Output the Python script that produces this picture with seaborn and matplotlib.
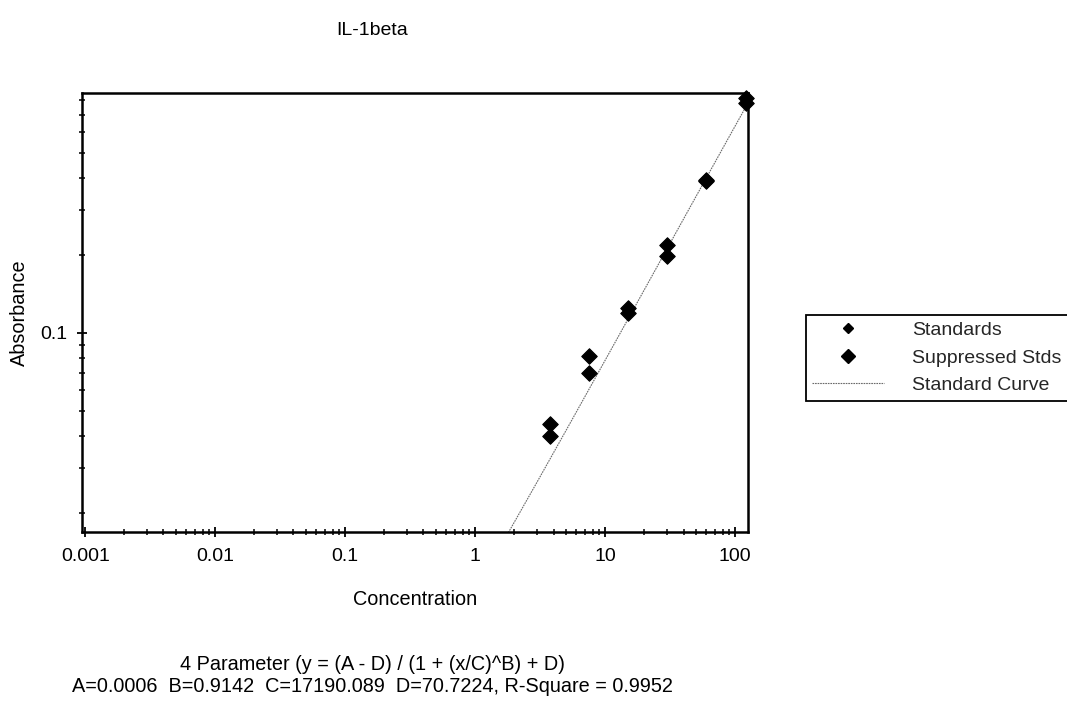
import matplotlib
matplotlib.use("Agg")
import matplotlib.pyplot as plt
import pandas as pd
import seaborn as sns
from matplotlib.ticker import LogLocator, FuncFormatter, NullFormatter
from matplotlib.lines import Line2D

# ---------------- data ----------------
title = "IL-1beta"
x_label = "Concentration"
y_label = "Absorbance"

std_conc = [3.75, 3.75, 7.5, 7.5, 15, 15, 30, 30, 60, 60, 120, 120]
std_abs = [0.0443, 0.0399, 0.0814, 0.0698, 0.125, 0.120, 0.219, 0.199, 0.393, 0.389, 0.815, 0.775]

curve_conc = [1.5, 2, 3, 5, 7.5, 10, 15, 20, 30, 45, 60, 90, 120]
curve_abs = [0.01436, 0.0185, 0.02652, 0.04195, 0.06051, 0.07851, 0.1134,
             0.1472, 0.2128, 0.3077, 0.3995, 0.5773, 0.7486]

legend_labels = ["Standards", "Suppressed Stds", "Standard Curve"]
fit_lines = ["4 Parameter (y = (A - D) / (1 + (x/C)^B) + D)",
             "A=0.0006  B=0.9142  C=17190.089  D=70.7224, R-Square = 0.9952"]

# ---------------- style ----------------
sns.set_theme(style="white")
plt.rcParams["font.family"] = ["Liberation Sans", "DejaVu Sans"]
FS = 14

W, H = 1067, 715
fig = plt.figure(figsize=(W / 100, H / 100), dpi=100)
fig.patch.set_facecolor("white")


def fx(px):
    return px / W


def fy(py):
    return 1 - py / H


ax = fig.add_axes([fx(81.7), fy(532.3), fx(748.3) - fx(81.7), fy(93) - fy(532.3)])
ax.set_facecolor("white")

df_std = pd.DataFrame({"conc": std_conc, "abs": std_abs})
df_curve = pd.DataFrame({"conc": curve_conc, "abs": curve_abs})

sns.lineplot(data=df_curve, x="conc", y="abs", ax=ax, color="#6a6a6a",
             linewidth=0.8, linestyle=(0, (1.5, 0.8)), legend=False, zorder=2)
sns.scatterplot(data=df_std, x="conc", y="abs", ax=ax, marker="D", s=62,
                color="black", edgecolor="black", linewidth=0.8,
                legend=False, zorder=3, clip_on=False)

ax.set_xscale("log")
ax.set_yscale("log")
ax.set_xlim(0.00094, 126)
ax.set_ylim(0.01689, 0.851)

ax.xaxis.set_major_locator(LogLocator(base=10, numticks=20))
ax.xaxis.set_minor_locator(LogLocator(base=10, subs=range(2, 10), numticks=100))
ax.yaxis.set_major_locator(LogLocator(base=10, numticks=20))
ax.yaxis.set_minor_locator(LogLocator(base=10, subs=range(2, 10), numticks=100))
fmt = FuncFormatter(lambda v, p: "%g" % v)
ax.xaxis.set_major_formatter(fmt)
ax.yaxis.set_major_formatter(fmt)
ax.xaxis.set_minor_formatter(NullFormatter())
ax.yaxis.set_minor_formatter(NullFormatter())

for s in ax.spines.values():
    s.set_visible(True)
    s.set_color("black")
    s.set_linewidth(1.8)

ax.tick_params(which="both", direction="inout", color="black", left=True,
               bottom=True, top=False, right=False)
ax.tick_params(which="major", length=7, width=1.3, labelsize=FS, labelcolor="black")
ax.tick_params(axis="x", which="major", pad=8)
ax.tick_params(axis="y", which="major", pad=7)
ax.tick_params(which="minor", length=5, width=1.1)

ax.set_xlabel(x_label, fontsize=14.3, color="black", labelpad=18)
ax.set_ylabel(y_label, fontsize=14.3, color="black", labelpad=8)
ax.set_title(title, fontsize=14, color="black", x=(372 - 81.7) / 666.6, pad=42)

# legend
handles = [
    Line2D([], [], marker="D", color="black", linestyle="none", markersize=5),
    Line2D([], [], marker="D", color="black", linestyle="none", markersize=7),
    Line2D([], [], color="#6a6a6a", linewidth=0.8, linestyle=(0, (1.5, 0.8))),
]
leg = fig.legend(handles, legend_labels, loc="upper left",
                 bbox_to_anchor=(fx(806), fy(397), fx(1090) - fx(806), fy(315) - fy(397)),
                 mode="expand", borderaxespad=0, borderpad=0.32,
                 handlelength=3.7, handletextpad=1.44, labelspacing=0.52,
                 frameon=True, fancybox=False, edgecolor="black",
                 fontsize=14, framealpha=1)
leg.get_frame().set_linewidth(1.3)

fig.text(fx(373), fy(665), fit_lines[0], ha="center", va="center", fontsize=14.3, color="black")
fig.text(fx(372), fy(686), fit_lines[1], ha="center", va="center", fontsize=14.3, color="black")

fig.savefig("out.png", dpi=100, facecolor="white")
